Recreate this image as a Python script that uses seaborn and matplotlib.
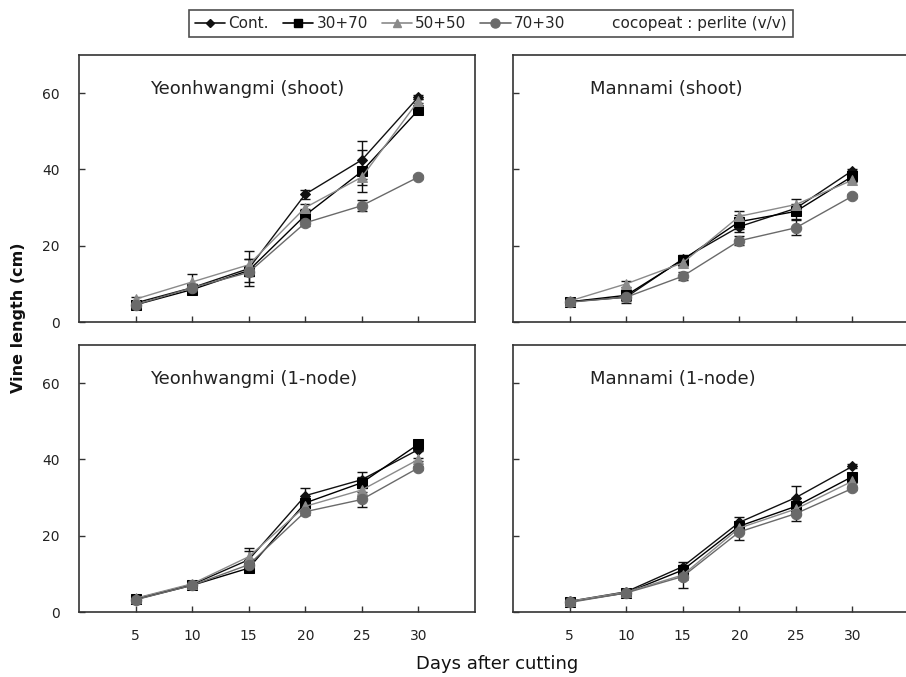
import matplotlib
matplotlib.use('Agg')
import pandas as pd
import matplotlib.pyplot as plt
import seaborn as sns
from matplotlib.lines import Line2D

# Vine length (cm) after cutting
days = [5, 10, 15, 20, 25, 30]
treatments = ['Cont.', '30+70', '50+50', '70+30']
panel_titles = ['Yeonhwangmi (shoot)', 'Mannami (shoot)',
                'Yeonhwangmi (1-node)', 'Mannami (1-node)']

yeon_shoot = {'Cont.': [5.0, 9.0, 14.0, 33.5, 42.5, 59.0],
              '30+70': [4.5, 8.5, 13.5, 28.0, 39.5, 55.6],
              '50+50': [6.0, 10.5, 15.0, 30.0, 38.0, 58.0],
              '70+30': [4.5, 9.0, 13.0, 26.0, 30.5, 38.0]}
yeon_shoot_se = {'Cont.': [0.5, 1.0, 4.5, 1.2, 5.0, 0.5],
                 '30+70': [0.5, 1.2, 3.0, 1.5, 5.5, 0.8],
                 '50+50': [0.5, 2.0, 1.5, 1.0, 2.0, 0.5],
                 '70+30': [0.5, 1.0, 1.0, 0.8, 1.5, 0.5]}

mann_shoot = {'Cont.': [5.3, 6.5, 16.5, 25.0, 29.8, 39.7],
              '30+70': [5.3, 7.0, 16.3, 26.3, 29.0, 38.2],
              '50+50': [5.5, 10.0, 15.5, 27.7, 30.8, 37.2],
              '70+30': [5.2, 6.5, 12.0, 21.3, 24.7, 33.0]}
mann_shoot_se = {'Cont.': [0.5, 1.5, 1.0, 1.5, 1.0, 0.5],
                 '30+70': [0.5, 1.5, 0.8, 1.8, 2.0, 0.5],
                 '50+50': [0.5, 0.8, 0.8, 1.5, 1.5, 0.5],
                 '70+30': [0.5, 0.8, 1.0, 1.2, 2.0, 0.5]}

yeon_node = {'Cont.': [3.5, 7.2, 13.7, 30.5, 34.7, 42.6],
             '30+70': [3.3, 7.0, 11.5, 28.6, 33.9, 44.0],
             '50+50': [3.6, 7.4, 14.5, 27.7, 32.0, 40.0],
             '70+30': [3.2, 7.0, 12.4, 26.3, 29.5, 37.8]}
yeon_node_se = {'Cont.': [0.4, 0.5, 3.0, 2.0, 2.0, 0.5],
                '30+70': [0.4, 0.5, 1.0, 1.0, 1.5, 0.5],
                '50+50': [0.4, 0.5, 1.5, 1.0, 1.5, 0.5],
                '70+30': [0.4, 0.5, 1.0, 1.0, 2.0, 0.5]}

mann_node = {'Cont.': [2.8, 5.3, 11.9, 23.5, 30.0, 38.2],
             '30+70': [2.7, 5.0, 11.0, 22.5, 27.7, 35.5],
             '50+50': [2.8, 5.2, 9.7, 22.0, 27.0, 34.3],
             '70+30': [2.5, 5.0, 9.3, 21.0, 25.8, 32.4]}
mann_node_se = {'Cont.': [0.4, 0.4, 1.2, 1.3, 3.0, 0.5],
                '30+70': [0.4, 0.4, 1.0, 1.0, 1.5, 0.5],
                '50+50': [0.4, 0.4, 1.0, 1.2, 1.5, 0.5],
                '70+30': [0.4, 0.4, 3.0, 2.0, 2.0, 0.5]}

panels = [(yeon_shoot, yeon_shoot_se), (mann_shoot, mann_shoot_se),
          (yeon_node, yeon_node_se), (mann_node, mann_node_se)]

colors = {'Cont.': '#111111', '30+70': '#000000', '50+50': '#8a8a8a', '70+30': '#6a6a6a'}
markers = {'Cont.': 'D', '30+70': 's', '50+50': '^', '70+30': 'o'}
msizes = {'Cont.': 5, '30+70': 7, '50+50': 6.5, '70+30': 7.5}

sns.set_style('ticks')
plt.rcParams['font.family'] = ['DejaVu Sans']
plt.rcParams['xtick.direction'] = 'in'
plt.rcParams['ytick.direction'] = 'in'

fig = plt.figure(figsize=(9.06, 6.77), dpi=100)
W, H = 906, 677
# axes boxes in pixels (left, top, width, height)
boxes = [(79, 55, 396, 267), (513, 55, 396, 267),
         (79, 345, 396, 267), (513, 345, 396, 267)]

for i, (box, (means, ses)) in enumerate(zip(boxes, panels)):
    l, t, w, h = box
    ax = fig.add_axes([l / W, 1 - (t + h) / H, w / W, h / H])
    for trt in treatments:
        df = pd.DataFrame({'day': days, 'length': means[trt]})
        ax.errorbar(df['day'], df['length'], yerr=ses[trt], fmt='none',
                    ecolor='#111111', elinewidth=1, capsize=3.5, capthick=1, zorder=1)
        sns.lineplot(data=df, x='day', y='length', ax=ax, color=colors[trt],
                     marker=markers[trt], markersize=msizes[trt],
                     markeredgecolor=colors[trt], lw=1, zorder=2)
    ax.set_xlim(0, 35)
    ax.set_ylim(0, 70)
    ax.set_xticks(days)
    ax.set_yticks([0, 20, 40, 60])
    ax.set_xlabel('')
    ax.set_ylabel('')
    ax.tick_params(direction='in', length=4, width=1, colors='#333333',
                   labelcolor='#222222', labelsize=10)
    ax.tick_params(axis='x', pad=12)
    ax.tick_params(axis='y', pad=14)
    if i < 2:
        ax.tick_params(axis='x', labelbottom=False)
    if i % 2 == 1:
        ax.tick_params(axis='y', labelleft=False)
    for sp in ax.spines.values():
        sp.set_color('#333333')
        sp.set_linewidth(1.2)
    ax.text(6.3 if i % 2 == 0 else 6.8, 61, panel_titles[i], fontsize=13,
            color='#222222', va='center', ha='left')

fig.text(19 / W, 1 - 318 / H, 'Vine length (cm)', rotation=90, ha='center',
         va='center', fontsize=11.5, fontweight='bold', color='#111111')
fig.text(497 / W, 1 - 664 / H, 'Days after cutting', ha='center', va='center',
         fontsize=13, color='#111111')

handles = [Line2D([], [], color=colors[t], marker=markers[t], markersize=msizes[t] - 1,
                  lw=1.2, label=t) for t in treatments]
handles.append(Line2D([], [], lw=0, label='cocopeat : perlite (v/v)'))
leg = fig.legend(handles=handles, loc='center', bbox_to_anchor=(491 / W, 1 - 23.5 / H),
                 ncol=5, frameon=True, fancybox=False, edgecolor='#222222',
                 fontsize=11, handlelength=2.0, handletextpad=0.2,
                 columnspacing=0.9, borderpad=0.4)
leg.get_frame().set_linewidth(1.2)

fig.savefig('out.png', dpi=100)
